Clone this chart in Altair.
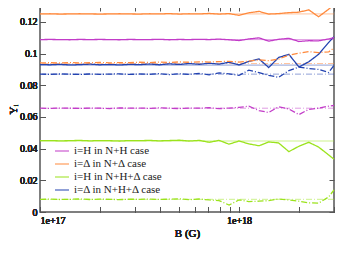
import altair as alt
import pandas as pd

B = [1.0e17, 1.12e17, 1.26e17, 1.41e17, 1.58e17, 1.78e17, 2.0e17, 2.24e17, 2.51e17, 2.82e17,
     3.16e17, 3.55e17, 3.98e17, 4.47e17, 5.01e17, 5.62e17, 6.31e17, 7.08e17, 7.94e17, 8.91e17,
     1.0e18, 1.12e18, 1.26e18, 1.41e18, 1.58e18, 1.78e18, 2.0e18, 2.24e18, 2.51e18, 2.82e18, 3.0e18]

mag_solid = [0.1088, 0.1089, 0.1088, 0.1087, 0.1089, 0.1088, 0.1089, 0.1088, 0.1087, 0.1089,
             0.1088, 0.1088, 0.1090, 0.1087, 0.1089, 0.1088, 0.1090, 0.1088, 0.1091, 0.1087,
             0.1082, 0.1092, 0.1099, 0.1078, 0.1090, 0.1096, 0.1076, 0.1081, 0.1080, 0.1092, 0.1100]
mag_dash = [0.0655, 0.0654, 0.0656, 0.0655, 0.0654, 0.0656, 0.0655, 0.0653, 0.0657, 0.0655,
            0.0656, 0.0654, 0.0657, 0.0655, 0.0653, 0.0656, 0.0655, 0.0658, 0.0652, 0.0656,
            0.0660, 0.0668, 0.0640, 0.0628, 0.0664, 0.0650, 0.0615, 0.0648, 0.0655, 0.0668, 0.0672]
ora_solid = [0.1250, 0.1251, 0.1249, 0.1250, 0.1251, 0.1250, 0.1249, 0.1250, 0.1251, 0.1250,
             0.1249, 0.1251, 0.1250, 0.1252, 0.1249, 0.1251, 0.1250, 0.1253, 0.1249, 0.1252,
             0.1241, 0.1257, 0.1266, 0.1249, 0.1252, 0.1258, 0.1261, 0.1276, 0.1232, 0.1280, 0.1306]
ora_dash = [0.0941, 0.0942, 0.0940, 0.0943, 0.0941, 0.0942, 0.0944, 0.0941, 0.0943, 0.0942,
            0.0945, 0.0943, 0.0946, 0.0944, 0.0947, 0.0945, 0.0948, 0.0946, 0.0949, 0.0951,
            0.0946, 0.0952, 0.0960, 0.0955, 0.0965, 0.0990, 0.1002, 0.1012, 0.1006, 0.1010, 0.1035]
grn_solid = [0.0450, 0.0451, 0.0449, 0.0450, 0.0452, 0.0449, 0.0451, 0.0450, 0.0448, 0.0451,
             0.0450, 0.0452, 0.0449, 0.0451, 0.0453, 0.0448, 0.0452, 0.0440, 0.0452, 0.0428,
             0.0448, 0.0430, 0.0418, 0.0442, 0.0436, 0.0381, 0.0415, 0.0440, 0.0410, 0.0360, 0.0333]
grn_dash = [0.0080, 0.0081, 0.0079, 0.0080, 0.0082, 0.0079, 0.0081, 0.0080, 0.0078, 0.0081,
            0.0080, 0.0082, 0.0079, 0.0081, 0.0083, 0.0078, 0.0082, 0.0076, 0.0072, 0.0044,
            0.0076, 0.0066, 0.0068, 0.0072, 0.0082, 0.0076, 0.0068, 0.0058, 0.0056, 0.0095, 0.0139]
blu_solid = [0.0931, 0.0929, 0.0932, 0.0928, 0.0930, 0.0933, 0.0929, 0.0931, 0.0928, 0.0932,
             0.0930, 0.0934, 0.0929, 0.0935, 0.0931, 0.0937, 0.0932, 0.0939, 0.0933, 0.0945,
             0.0928, 0.0950, 0.0966, 0.0912, 0.0975, 0.0995, 0.0915, 0.0948, 0.0995, 0.1070, 0.1106]
blu_dash = [0.0870, 0.0869, 0.0871, 0.0870, 0.0868, 0.0871, 0.0869, 0.0870, 0.0872, 0.0868,
            0.0871, 0.0869, 0.0873, 0.0867, 0.0872, 0.0869, 0.0874, 0.0866, 0.0878, 0.0872,
            0.0862, 0.0895, 0.0880, 0.0862, 0.0850, 0.0892, 0.0915, 0.0905, 0.0900, 0.0880, 0.0925]

labels = ["i=H in N+H case", "i=\u0394 in N+\u0394 case", "i=H in N+H+\u0394 case", "i=\u0394 in N+H+\u0394 case"]
colors = ["#c23cc8", "#ff8a3d", "#9be31c", "#2343b0"]

# reference (low-field) levels
ref_group = [labels[0], labels[0], labels[1], labels[1], labels[2], labels[2], labels[3], labels[3]]
ref_style = ["solid", "dashdot", "solid", "dashdot", "solid", "dashdot", "solid", "dashdot"]
ref_value = [0.1088, 0.0655, 0.1250, 0.0937, 0.0448, 0.0080, 0.0927, 0.0870]

# drawing order: blue first so orange dash-dot sits on top of it
series = [
    (labels[3], "solid", blu_solid), (labels[3], "dashdot", blu_dash),
    (labels[2], "solid", grn_solid), (labels[2], "dashdot", grn_dash),
    (labels[0], "solid", mag_solid), (labels[0], "dashdot", mag_dash),
    (labels[1], "solid", ora_solid), (labels[1], "dashdot", ora_dash),
]
frames = []
for g, s, vals in series:
    frames.append(pd.DataFrame({"B": B, "Y": vals, "group": g, "style": s}))
ref_df = pd.DataFrame({"group": ref_group, "style": ref_style, "Y": ref_value})

FONT = "Liberation Serif"
x_vals = [1e17, 2e17, 3e17, 4e17, 5e17, 6e17, 7e17, 8e17, 9e17, 1e18, 2e18, 3e18]
y_vals = [0, 0.02, 0.04, 0.06, 0.08, 0.10, 0.12]

xscale = alt.Scale(type="log", domain=[1e17, 3e18], nice=False)
yscale = alt.Scale(domain=[0, 0.13], nice=False, zero=False)
cscale = alt.Scale(domain=labels, range=colors)
dscale = alt.Scale(domain=["solid", "dashdot"], range=[[1, 0], [6, 2, 1, 2]])

legend = alt.Legend(title=None, orient="none", legendX=14, legendY=137,
                    symbolType="M-1,0L1,0", symbolSize=196, symbolStrokeWidth=2,
                    labelFont=FONT, labelFontSize=11, labelColor="#222",
                    rowPadding=-2, labelOffset=4, padding=0, values=labels)

x_axis = alt.Axis(values=x_vals, labelExpr="datum.value == 1e17 ? '1e+17' : (datum.value == 1e18 ? '1e+18' : '')",
                  title="B (G)", orient="bottom", offset=-5, tickSize=5, domain=False, grid=False,
                  labelPadding=3, titlePadding=2, labelFont=FONT, titleFont=FONT, labelFontSize=10,
                  titleFontSize=11, titleFontWeight="normal", tickColor="#555", labelColor="#222",
                  titleColor="#222")
y_axis = alt.Axis(values=y_vals, format="~g", title="Y\u1d62", orient="left", offset=-5, tickSize=5,
                  domain=False, grid=False, labelPadding=3, titlePadding=1, labelFont=FONT,
                  titleFont=FONT, labelFontSize=10, titleFontSize=11, titleFontWeight="normal",
                  tickColor="#555", labelColor="#222", titleColor="#222")

ref = alt.Chart(ref_df).mark_rule(strokeWidth=1, opacity=0.5).encode(
    y=alt.Y("Y:Q", scale=yscale, axis=y_axis),
    color=alt.Color("group:N", scale=cscale, legend=legend),
    strokeDash=alt.StrokeDash("style:N", scale=dscale, legend=None),
)

layers = [ref]
for f in frames:
    layers.append(
        alt.Chart(f).mark_line(strokeWidth=1.3).encode(
            x=alt.X("B:Q", scale=xscale, axis=x_axis),
            y=alt.Y("Y:Q", scale=yscale, axis=y_axis),
            color=alt.Color("group:N", scale=cscale, legend=legend),
            strokeDash=alt.StrokeDash("style:N", scale=dscale, legend=None),
        )
    )

mirror = alt.Chart(frames[0]).mark_line(opacity=0).encode(
    x=alt.X("B:Q", scale=xscale, axis=alt.Axis(values=x_vals, labels=False, title=None, orient="top",
                                                offset=-5, tickSize=5, domain=False, grid=False,
                                                tickColor="#555")),
    y=alt.Y("Y:Q", scale=yscale, axis=alt.Axis(values=y_vals, labels=False, title=None, orient="right",
                                                offset=-5, tickSize=5, domain=False, grid=False,
                                                tickColor="#555")),
)
layers.append(mirror)

chart = alt.layer(*layers).resolve_axis(x="independent", y="independent").properties(
    width=294, height=206, autosize=alt.AutoSizeParams(type="none"),
    padding={"left": 32, "top": -2, "right": 8, "bottom": 30},
    background="white",
).configure_view(stroke="#555", strokeWidth=1.5)

chart.save("out.html", embed_options={"renderer": "svg", "actions": False})
